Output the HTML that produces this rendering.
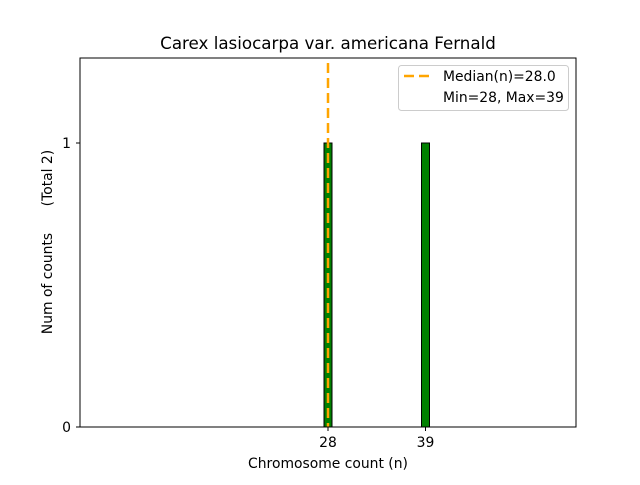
<!DOCTYPE html>
<html><head><style>body{margin:0;background:#fff}</style></head><body>
<svg width="640" height="480" xmlns="http://www.w3.org/2000/svg" font-family="DejaVu Sans, Liberation Sans, sans-serif">
<rect width="640" height="480" fill="#fff"/>
<text x="328" y="49" font-size="16.7" text-anchor="middle">Carex lasiocarpa var. americana Fernald</text>
<line x1="80" y1="427" x2="456" y2="427" stroke="#000" stroke-width="1"/>
<rect x="324" y="143" width="8" height="284" fill="#008000" stroke="#000" stroke-width="1"/>
<rect x="421.5" y="143" width="8" height="284" fill="#008000" stroke="#000" stroke-width="1"/>
<line x1="328" y1="63" x2="328" y2="427" stroke="#FFA500" stroke-width="2.5" stroke-dasharray="10,5"/>
<rect x="80" y="58" width="496" height="369" fill="none" stroke="#000" stroke-width="1"/>
<line x1="76" y1="143" x2="80" y2="143" stroke="#000"/>
<line x1="76" y1="427" x2="80" y2="427" stroke="#000"/>
<text x="71" y="148" font-size="13.9" text-anchor="end">1</text>
<text x="71" y="432" font-size="13.9" text-anchor="end">0</text>
<line x1="328" y1="427" x2="328" y2="431" stroke="#000"/>
<line x1="425.5" y1="427" x2="425.5" y2="431" stroke="#000"/>
<text x="328" y="447" font-size="13.9" text-anchor="middle">28</text>
<text x="425.5" y="447" font-size="13.9" text-anchor="middle">39</text>
<text x="328" y="468" font-size="13.9" text-anchor="middle">Chromosome count (n)</text>
<text transform="translate(52,242) rotate(-90)" font-size="13.9" text-anchor="middle" xml:space="preserve" style="white-space:pre">Num of counts      (Total 2)</text>
<rect x="398.5" y="65.5" width="170" height="45" rx="3" fill="#fff" stroke="#ccc"/>
<line x1="404" y1="76" x2="432" y2="76" stroke="#FFA500" stroke-width="2.5" stroke-dasharray="10,5"/>
<text x="443" y="81" font-size="13.9">Median(n)=28.0</text>
<text x="443" y="102" font-size="13.9">Min=28, Max=39</text>
</svg>
</body></html>
